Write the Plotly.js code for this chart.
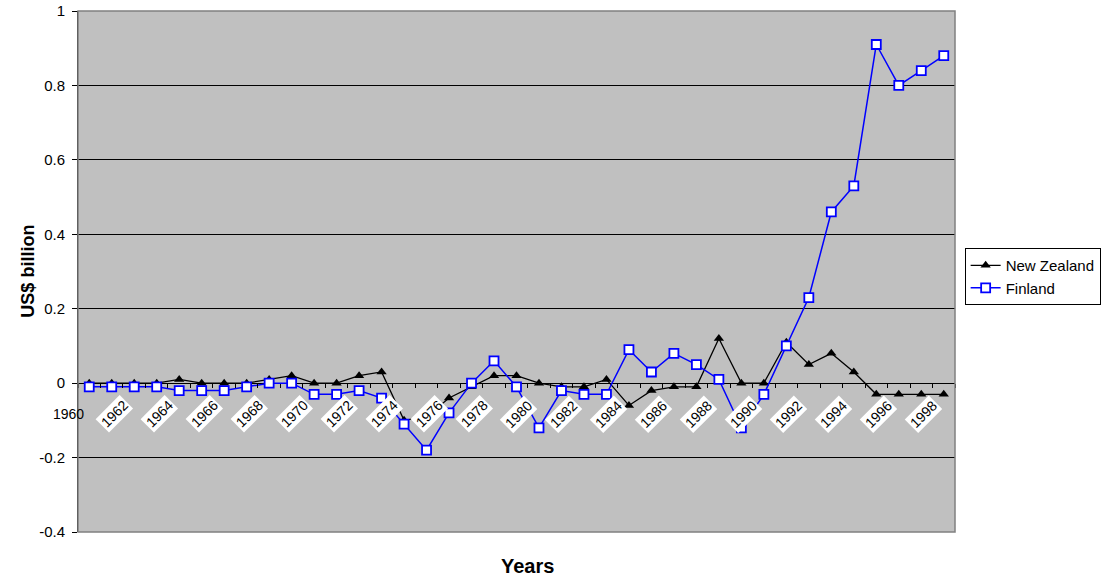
<!DOCTYPE html>
<html>
<head>
<meta charset="utf-8">
<script src="https://cdn.plot.ly/plotly-3.0.1.min.js"></script>
<style>html,body{margin:0;padding:0;background:#fff;}#chart{width:1112px;height:577px;}</style>
</head>
<body>
<div id="chart"></div>
<script>
var years = [1960,1961,1962,1963,1964,1965,1966,1967,1968,1969,
             1970,1971,1972,1973,1974,1975,1976,1977,1978,1979,
             1980,1981,1982,1983,1984,1985,1986,1987,1988,1989,
             1990,1991,1992,1993,1994,1995,1996,1997,1998];
var newZealand = [0,0,0,0,0.01,0,0,0,0.01,0.02,
                  0,0,0.02,0.03,-0.1,-0.09,-0.04,-0.01,0.02,0.02,
                  0,-0.01,-0.01,0.01,-0.06,-0.02,-0.01,-0.01,0.12,0,
                  0,0.11,0.05,0.08,0.03,-0.03,-0.03,-0.03,-0.03];
var finland = [-0.01,-0.01,-0.01,-0.01,-0.02,-0.02,-0.02,-0.01,0,0,
               -0.03,-0.03,-0.02,-0.04,-0.11,-0.18,-0.08,0,0.06,-0.01,
               -0.12,-0.02,-0.03,-0.03,0.09,0.03,0.08,0.05,0.01,-0.12,
               -0.03,0.10,0.23,0.46,0.53,0.91,0.80,0.84,0.88];
var labelYears = [1962,1964,1966,1968,1970,1972,1974,1976,1978,1980,
                  1982,1984,1986,1988,1990,1992,1994,1996,1998];
var firstLabel = 1960;
var seriesNames = ['New Zealand','Finland'];
var yTickVals = [-0.4,-0.2,0,0.2,0.4,0.6,0.8,1];
var yTickText = ['-0.4','-0.2','0','0.2','0.4','0.6','0.8','1'];
var yMin = -0.4, yMax = 1.0;

var font = 'Liberation Sans, Arial, sans-serif';

var traces = [
  {x: years, y: newZealand, name: seriesNames[0], type: 'scatter', mode: 'lines+markers',
   line: {color: '#000000', width: 1.3},
   marker: {symbol: 'triangle-up', size: 9, color: '#000000', line: {color: '#000000', width: 0}}},
  {x: years, y: finland, name: seriesNames[1], type: 'scatter', mode: 'lines+markers',
   line: {color: '#0000ff', width: 1.5},
   marker: {symbol: 'square', size: 9, color: '#ffffff', line: {color: '#0000ff', width: 1.8}}}
];

var annotations = labelYears.map(function (yr) {
  return {x: yr, y: 0, xref: 'x', yref: 'y', text: String(yr), showarrow: false,
          textangle: -45, bgcolor: '#ffffff', borderpad: 1,
          font: {family: font, size: 14, color: '#000000'},
          xanchor: 'center', yanchor: 'middle', xshift: -20, yshift: -31};
});
annotations.push({x: firstLabel, y: 0, xref: 'x', yref: 'y', text: String(firstLabel), showarrow: false,
  font: {family: font, size: 14, color: '#000000'}, xanchor: 'center', yanchor: 'middle',
  xshift: -21, yshift: -31});
annotations.push({x: 0.5, y: -0.065, xref: 'paper', yref: 'paper', text: '<b>Years</b>', showarrow: false,
  font: {family: font, size: 20, color: '#000000'}, xanchor: 'center', yanchor: 'middle', xshift: 11});
annotations.push({x: -0.058, y: 0.5, xref: 'paper', yref: 'paper', text: '<b>US$ billion</b>', showarrow: false,
  textangle: -90, font: {family: font, size: 18, color: '#000000'}, xanchor: 'center', yanchor: 'middle'});

var layout = {
  width: 1112, height: 577,
  margin: {l: 78, r: 155, t: 11, b: 45, pad: 0},
  paper_bgcolor: '#ffffff', plot_bgcolor: '#c0c0c0',
  font: {family: font, size: 15, color: '#000000'},
  showlegend: true,
  legend: {x: 1.011, y: 0.545, xanchor: 'left', yanchor: 'top', bgcolor: '#ffffff',
           bordercolor: '#000000', borderwidth: 1, font: {family: font, size: 15, color: '#000000'},
           tracegroupgap: 0, itemwidth: 30},
  xaxis: {type: 'linear', range: [years[0] - 0.5, years[years.length - 1] + 0.5],
          anchor: 'free', position: (0 - yMin) / (yMax - yMin),
          showgrid: false, zeroline: false, showline: false, showticklabels: false,
          ticks: 'outside', ticklen: 4, tickwidth: 1, tickcolor: '#000000',
          tickvals: years.concat([years[years.length - 1] + 1]).map(function (v) { return v - 0.5; })},
  yaxis: {range: [yMin, yMax], tickmode: 'array', tickvals: yTickVals, ticktext: yTickText,
          showgrid: true, gridcolor: '#000000', gridwidth: 1,
          zeroline: true, zerolinecolor: '#000000', zerolinewidth: 1,
          showline: true, linecolor: '#000000', linewidth: 1,
          ticks: 'outside', ticklen: 5, tickcolor: '#000000', ticklabelstandoff: 4,
          tickfont: {family: font, size: 15, color: '#000000'}},
  shapes: [{type: 'rect', xref: 'x domain', yref: 'y domain', x0: 0, x1: 1, y0: 0, y1: 1,
            line: {color: '#808080', width: 1.5}, fillcolor: 'rgba(0,0,0,0)', layer: 'above'}],
  annotations: annotations
};

Plotly.newPlot('chart', traces, layout, {displayModeBar: false, staticPlot: true});
</script>
</body>
</html>
